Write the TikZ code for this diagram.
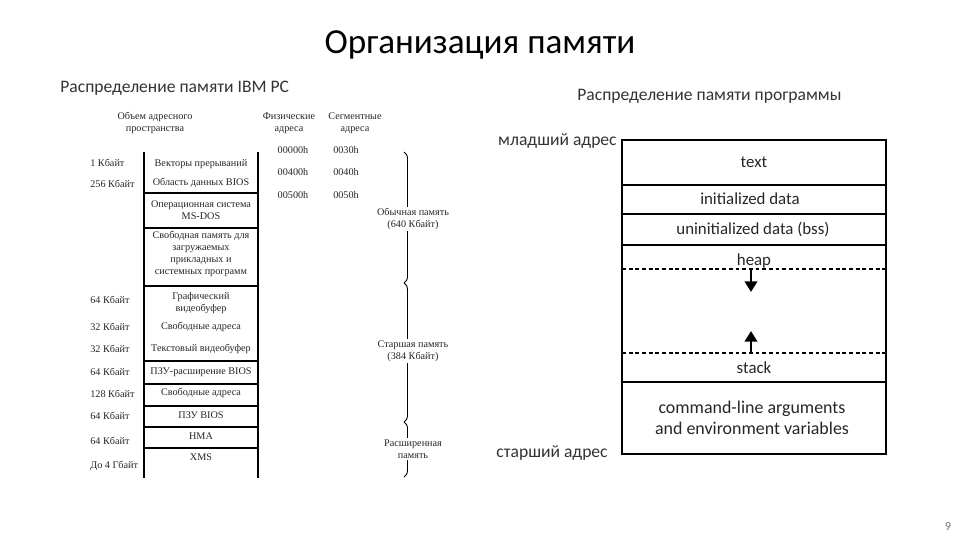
\documentclass[tikz,border=0pt]{standalone}
\usepackage{fontspec}
\setmainfont{Carlito}
\newfontfamily\oldfont{Liberation Serif}
\usetikzlibrary{arrows.meta,decorations.pathreplacing}

\begin{document}
\begin{tikzpicture}[x=0.02cm, y=-0.02cm,
  oldtxt/.style={font=\oldfont\fontsize{5.8}{6.7}\selectfont, align=center, inner sep=0pt, text=black!85},
  segtxt/.style={font=\fontsize{9.6}{11.5}\selectfont, align=center, inner sep=0pt, text=black!85},
  memline/.style={line width=0.6pt},
  growline/.style={line width=0.6pt, dash pattern=on 2.2pt off 1.6pt},
  growarrow/.style={line width=1.4pt, -{Triangle[length=6pt,width=7pt]}},
  membrace/.style={decorate, decoration={brace, amplitude=4pt}, line width=0.5pt}]
  \useasboundingbox (0,0) rectangle (960,540);

  \node[font=\fontsize{20}{24}\selectfont] (title) at (480,45) {Организация памяти};
  \node[anchor=west, inner sep=0pt, font=\fontsize{10}{12}\selectfont, text=black!80] (ibm) at (60,88) {Распределение памяти IBM PC};
  \node[anchor=west, inner sep=0pt, font=\fontsize{10}{12}\selectfont, text=black!80] (prog) at (577,96) {Распределение памяти программы};

  % IBM PC table
  \node[oldtxt] (hdsize) at (155,123) {Объем адресного\\пространства};
  \node[oldtxt] (hdphys) at (289,123) {Физические\\адреса};
  \node[oldtxt] (hdseg) at (355,123) {Сегментные\\адреса};

  \draw[memline] (144,152) -- (144,478);
  \draw[memline] (258,152) -- (258,478);
  \foreach \yy in {193,228,286,361,384,406,427,448}
    \draw[memline] (144,\yy) -- (258,\yy);

  \foreach \yy/\lbl [count=\i] in {%
    164/{Векторы прерываний},%
    183/{Область данных BIOS},%
    210/{Операционная система\\MS-DOS},%
    254/{Свободная память для\\загружаемых\\прикладных и\\системных программ},%
    303/{Графический\\видеобуфер},%
    327/{Свободные адреса},%
    349/{Текстовый видеобуфер},%
    372/{ПЗУ-расширение BIOS},%
    393/{Свободные адреса},%
    415/{ПЗУ BIOS},%
    436/{HMA},%
    457/{XMS}%
  }{
    \node[oldtxt] (row\i) at (201,\yy) {\lbl};
  }

  \foreach \yy/\lbl [count=\i] in {%
    163/{1 Кбайт}, 184/{256 Кбайт}, 300/{64 Кбайт}, 327/{32 Кбайт},%
    349/{32 Кбайт}, 372/{64 Кбайт}, 394/{128 Кбайт}, 416/{64 Кбайт},%
    441/{64 Кбайт}, 466/{До 4 Гбайт}%
  }{
    \node[oldtxt, anchor=west] (size\i) at (90,\yy) {\lbl};
  }

  \foreach \yy/\ph/\sg [count=\i] in {150/00000h/0030h, 172/00400h/0040h, 195/00500h/0050h}{
    \node[oldtxt] (phys\i) at (293,\yy) {\ph};
    \node[oldtxt] (seg\i) at (346,\yy) {\sg};
  }

  \coordinate (b0) at (404,152);
  \coordinate (b1) at (404,283);
  \coordinate (b2) at (404,422);
  \coordinate (b3) at (404,477);
  \draw[membrace] (b0) -- (b1);
  \draw[membrace] (b1) -- (b2);
  \draw[membrace] (b2) -- (b3);
  \node[oldtxt, fill=white, inner sep=1pt] (conv) at (413,219) {Обычная память\\(640 Кбайт)};
  \node[oldtxt, fill=white, inner sep=1pt] (upper) at (413,351) {Старшая память\\(384 Кбайт)};
  \node[oldtxt, fill=white, inner sep=1pt] (ext) at (413,449) {Расширенная\\память};

  % program layout
  \draw[memline] (622,140) rectangle (886,454);
  \foreach \yy in {185,214,245,382}
    \draw[memline] (622,\yy) -- (886,\yy);
  \draw[growline] (622,269) -- (886,269);
  \draw[growline] (622,353) -- (886,353);

  \node[segtxt] (text) at (754,162) {text};
  \node[segtxt] (init) at (750,199) {initialized data};
  \node[segtxt] (bss) at (753,230) {uninitialized data (bss)};
  \node[segtxt] (heap) at (754,261) {heap};
  \node[segtxt] (stack) at (754,368) {stack};
  \node[segtxt, font=\fontsize{10.2}{12.2}\selectfont] (args) at (752,418) {command-line arguments\\and environment variables};

  \coordinate (heapedge) at (751,269);
  \coordinate (heapend) at (751,292);
  \coordinate (stackedge) at (751,353);
  \coordinate (stackend) at (751,331);
  \draw[growarrow] (heapedge) -- (heapend);
  \draw[growarrow] (stackedge) -- (stackend);

  \node[anchor=east, inner sep=0pt, font=\fontsize{10}{12}\selectfont, text=black!80] (low) at (617,141) {младший адрес};
  \node[anchor=east, inner sep=0pt, font=\fontsize{10}{12}\selectfont, text=black!80] (high) at (608,453) {старший адрес};

  \node[font=\fontsize{7}{8}\selectfont, text=black!55] (page) at (948,527) {9};
\end{tikzpicture}
\end{document}
